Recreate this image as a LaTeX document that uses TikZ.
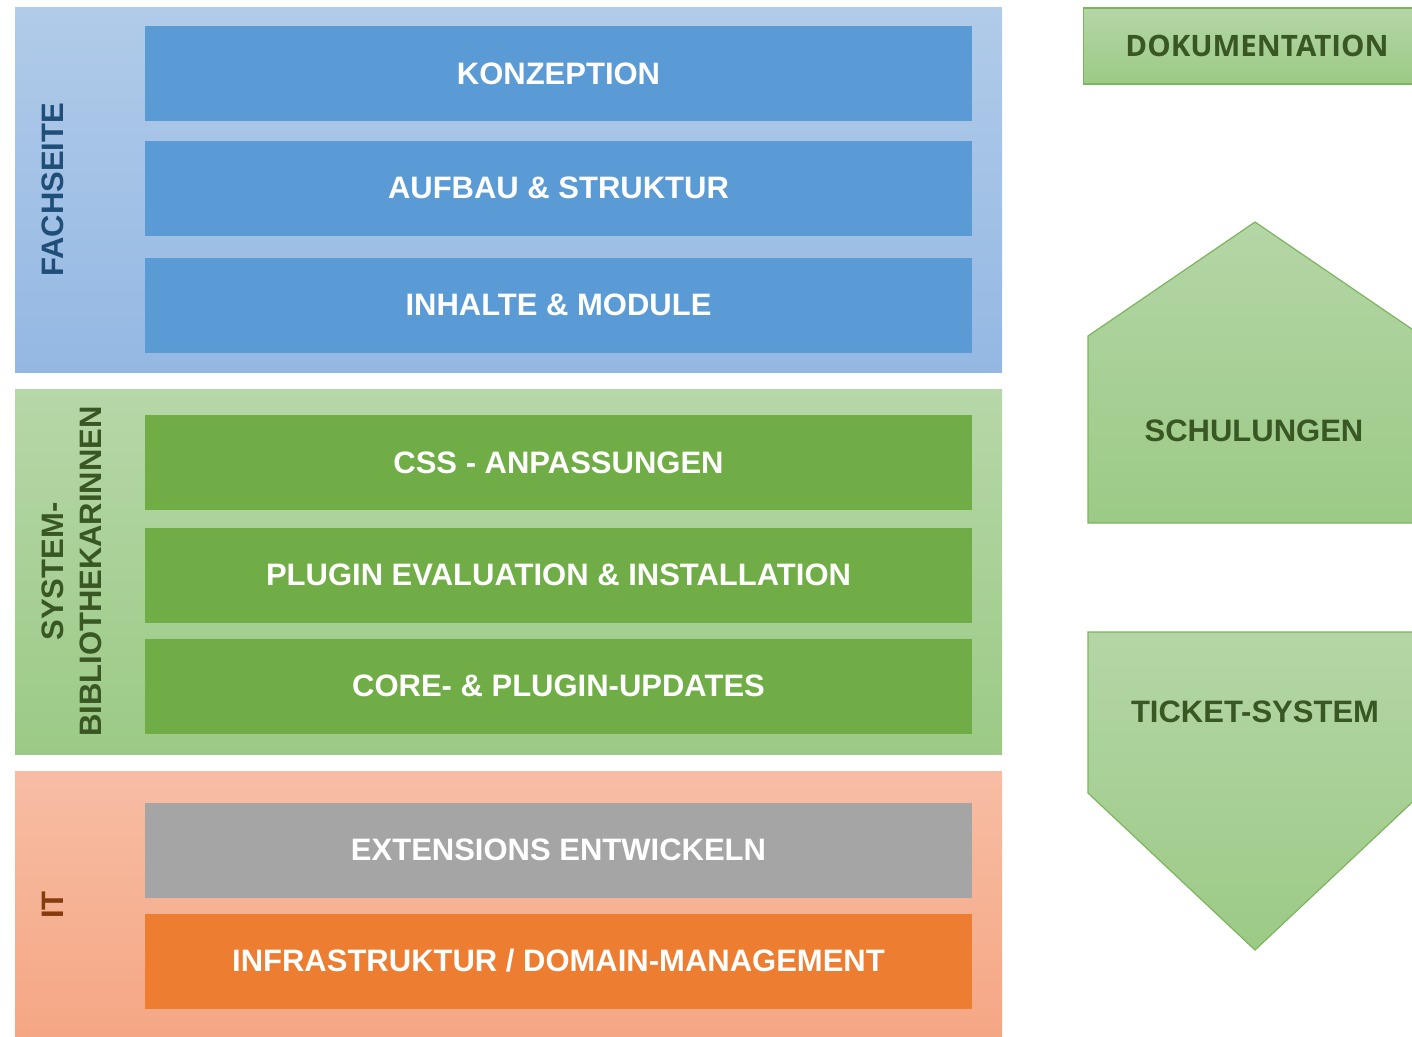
\documentclass[tikz,border=0pt]{standalone}
\usepackage{fontspec}
\setmainfont{Liberation Sans}
\newfontfamily\opensans{Open Sans}
\definecolor{bandBlueT}{HTML}{B1CBE9}
\definecolor{bandBlueB}{HTML}{94B8E3}
\definecolor{bandGreenT}{HTML}{B6D7A8}
\definecolor{bandGreenB}{HTML}{9CCA86}
\definecolor{bandOrT}{HTML}{F7BDA4}
\definecolor{bandOrB}{HTML}{F5A683}
\definecolor{boxBlue}{HTML}{5B9BD5}
\definecolor{boxGreen}{HTML}{70AD47}
\definecolor{boxGray}{HTML}{A5A5A5}
\definecolor{boxOrange}{HTML}{ED7D31}
\definecolor{txtBlue}{HTML}{1F4E79}
\definecolor{txtGreen}{HTML}{385723}
\definecolor{txtOr}{HTML}{843C0C}
\definecolor{sideT}{HTML}{B4D6A6}
\definecolor{sideB}{HTML}{9CCA86}
\definecolor{sideEdge}{HTML}{7DB55E}
\tikzset{
  x=1pt, y=-1pt,
  band/.style={draw=none, minimum width=987pt, inner sep=0pt, outer sep=0pt},
  itembox/.style={draw=none, minimum width=827pt, minimum height=95pt, inner sep=0pt,
    text=white, font=\fontsize{31}{36}\selectfont\bfseries},
  bandlabel/.style={rotate=90, inner sep=0pt, font=\fontsize{31}{38}\selectfont\bfseries, align=center},
  sidelabel/.style={text=txtGreen, inner sep=0pt, font=\fontsize{31}{36}\selectfont\bfseries},
  sideshape/.style={draw=sideEdge, line width=1.2pt, top color=sideT, bottom color=sideB}
}
\begin{document}
\begin{tikzpicture}
\useasboundingbox (0,0) rectangle (1412,1036);
\fill[white] (0,0) rectangle (1412,1036);
% bands
\node[band, minimum height=365pt, top color=bandBlueT, bottom color=bandBlueB] (fach) at (508.5,189.5) {};
\node[band, minimum height=365pt, top color=bandGreenT, bottom color=bandGreenB] (sys) at (508.5,571.5) {};
\node[band, minimum height=275pt, top color=bandOrT, bottom color=bandOrB] (it) at (508.5,908.5) {};
% band labels
\node[bandlabel, text=txtBlue] (lfach) at (53,190) {FACHSEITE};
\node[bandlabel, text=txtGreen] (lsys) at (72,571.5) {SYSTEM-\\BIBLIOTHEKARINNEN};
\node[bandlabel, text=txtOr] (lit) at (53,905) {IT};
% item boxes
\node[itembox, fill=boxBlue] (konz) at (558.5,73.5) {KONZEPTION};
\node[itembox, fill=boxBlue] (aufb) at (558.5,188) {AUFBAU \& STRUKTUR};
\node[itembox, fill=boxBlue] (inh) at (558.5,305) {INHALTE \& MODULE};
\node[itembox, fill=boxGreen] (css) at (558.5,462.5) {CSS - ANPASSUNGEN};
\node[itembox, fill=boxGreen] (plug) at (558.5,575) {PLUGIN EVALUATION \& INSTALLATION};
\node[itembox, fill=boxGreen] (core) at (558.5,686) {CORE- \& PLUGIN-UPDATES};
\node[itembox, fill=boxGray] (ext) at (558.5,850) {EXTENSIONS ENTWICKELN};
\node[itembox, fill=boxOrange] (infra) at (558.5,961) {INFRASTRUKTUR / DOMAIN-MANAGEMENT};
% right side
\node[sideshape, minimum width=339pt, minimum height=76pt, inner sep=0pt] (doku) at (1253,46) {};
\node[text=txtGreen, inner sep=0pt, font=\opensans\fontsize{29.5}{34}\selectfont\bfseries] (ldoku) at (1257,46) {DOKUMENTATION};
\draw[sideshape] (1255,222) -- (1422,336) -- (1422,523) -- (1088,523) -- (1088,336) -- cycle;
\node[sidelabel] (lschul) at (1254,431) {SCHULUNGEN};
\draw[sideshape] (1088,632) -- (1422,632) -- (1422,793) -- (1255,950) -- (1088,793) -- cycle;
\node[sidelabel] (lticket) at (1255,712) {TICKET-SYSTEM};
\end{tikzpicture}
\end{document}
